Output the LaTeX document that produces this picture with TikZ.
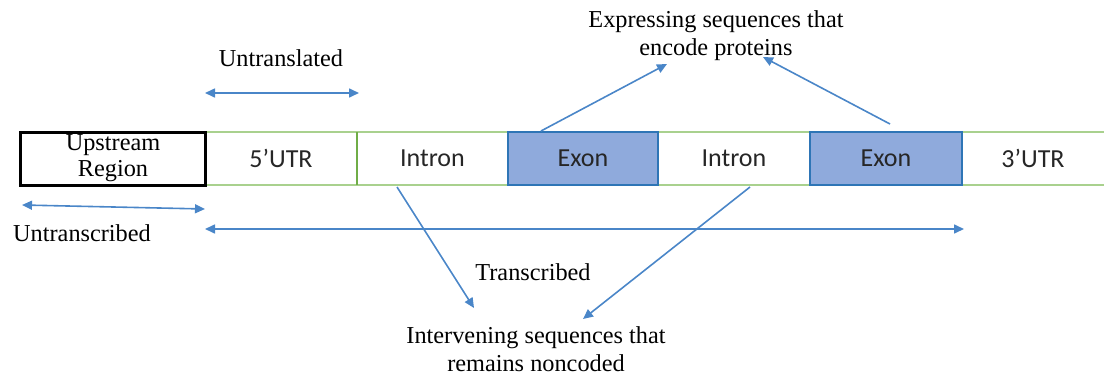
\documentclass[tikz,border=0pt]{standalone}
\usepackage{fontspec}
\setmainfont{Liberation Serif}
\newfontfamily\calibrifont{Carlito}
\usetikzlibrary{arrows.meta}
\definecolor{barline}{HTML}{A9D18E}
\definecolor{bardiv}{HTML}{70AD47}
\definecolor{exonfill}{HTML}{8FAADC}
\definecolor{exonedge}{HTML}{2E75B6}
\definecolor{arrowblue}{HTML}{4A86C8}
\begin{document}
\begin{tikzpicture}[x=1pt,y=-1pt,
  cell/.style={minimum height=53pt,inner sep=0pt,outer sep=0pt,
    font=\calibrifont\fontsize{26}{30}\selectfont,text=black!85},
  exon/.style={cell,fill=exonfill,draw=exonedge,line width=2pt},
  label/.style={font=\fontsize{24.3}{28}\selectfont,align=center,inner sep=0pt},
  link/.style={draw=arrowblue,line width=1.6pt,-{Triangle[length=10pt,width=9pt]}},
  span/.style={draw=arrowblue,line width=1.6pt,{Triangle[length=10pt,width=9pt]}-{Triangle[length=10pt,width=9pt]}}]
\useasboundingbox (0,0) rectangle (1104,375);

% gene segments
\node[cell,minimum width=152pt] (utr5) at (281,158.5) {5’UTR};
\node[cell,minimum width=151pt] (intr1) at (432.5,158.5) {Intron};
\node[cell,minimum width=152pt] (intr2) at (734,158.5) {Intron};
\node[cell,minimum width=142pt] (utr3) at (1033,158.5) {3’UTR};
\draw[barline,line width=2.5pt] (utr5.north west) -- (utr3.north east);
\draw[barline,line width=2.5pt] (utr5.south west) -- (utr3.south east);
\draw[bardiv,line width=2pt] (utr5.north east) -- (utr5.south east);
\node[exon,minimum width=150pt] (ex1) at (583,158.5) {Exon};
\node[exon,minimum width=152pt] (ex2) at (886,158.5) {Exon};
\node[cell,minimum width=185pt,draw=black,line width=3pt,text=black,
  font=\fontsize{24.3}{26}\selectfont,align=center] (up) at (113,158.5) {Upstream\\Region};

% labels
\node[label] (untrl) at (281,58) {Untranslated};
\node[label] (untrs) at (82,233) {Untranscribed};
\node[label] (trs) at (533,272) {Transcribed};
\node[label] (expr) at (716,36) {Expressing sequences that\\encode proteins};
\node[label] (interv) at (536,349) {Intervening sequences that\\remains noncoded};

% extent arrows
\coordinate (ul) at (205,93);
\coordinate (ur) at (359,93);
\coordinate (xl) at (22,205);
\coordinate (xr) at (205,209);
\coordinate (tl) at (205,229);
\coordinate (tr) at (964,229);
\path[span] (ul) -- (ur);
\path[span] (xl) -- (xr);
\path[span] (tl) -- (tr);

% pointer arrows
\coordinate (i1) at (397,187);
\coordinate (i2) at (750,187);
\coordinate (e1) at (541,131);
\coordinate (e2) at (890,124);
\coordinate (n1) at (474,308);
\coordinate (n2) at (583,319);
\coordinate (p1) at (667,64);
\coordinate (p2) at (763,57);
\path[link] (i1) -- (n1);
\path[link] (i2) -- (n2);
\path[link] (e1) -- (p1);
\path[link] (e2) -- (p2);
\end{tikzpicture}
\end{document}
